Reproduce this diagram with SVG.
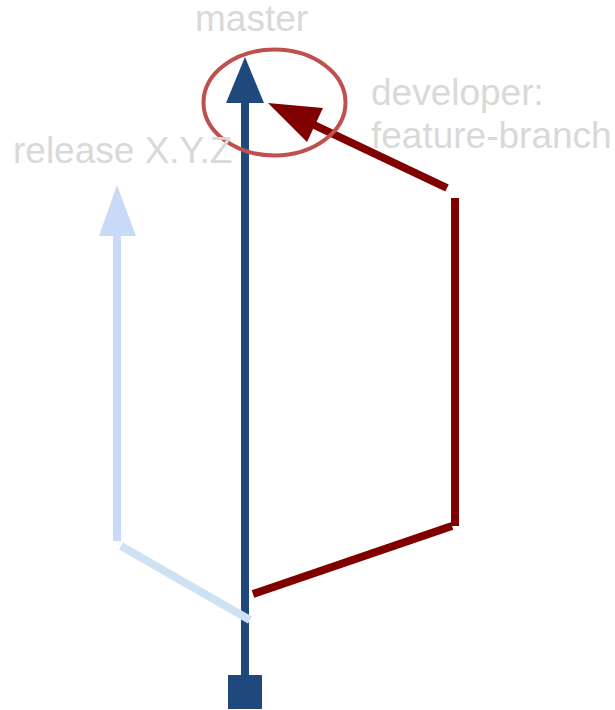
<svg xmlns="http://www.w3.org/2000/svg" width="615" height="710" viewBox="0 0 615 710">
  <style>
    .lbl { font-family: "Liberation Sans", Arial, sans-serif; font-size: 37px; fill: #d9d9d9; }
    .master { stroke: #1f497d; stroke-width: 8; fill: none; }
    .feature { stroke: #800000; stroke-width: 8; fill: none; }
    .release { stroke: #c9daf8; stroke-width: 8; fill: none; }
    .release-fork { stroke: #cfe2f3; stroke-width: 8; fill: none; }
  </style>

  <g id="connectors">
    <!-- master trunk -->
    <line class="master" x1="245" y1="676" x2="245" y2="100"/>
    <polygon points="245,57 226,103 264,103" fill="#1f497d"/>

    <!-- release branch -->
    <line class="release-fork" x1="250" y1="620" x2="121" y2="546"/>
    <line class="release" x1="117" y1="541" x2="117" y2="232"/>
    <polygon points="117,185 99,236 136,236" fill="#c9daf8"/>

    <!-- feature branch -->
    <line class="feature" x1="253" y1="594" x2="452" y2="526"/>
    <line class="feature" x1="455" y1="526" x2="455" y2="198"/>
    <line class="feature" x1="447" y1="188" x2="312" y2="124"/>
    <polygon points="268,103 323,108 307,142" fill="#800000"/>
  </g>

  <g id="node-master">
    <text class="lbl" x="195" y="31">master</text>
    <ellipse cx="274.5" cy="102.5" rx="71" ry="53" fill="none" stroke="#c0504d" stroke-width="4"/>
  </g>

  <g id="node-release">
    <text class="lbl" x="13" y="163">release X.Y.Z</text>
  </g>

  <g id="node-feature">
    <text class="lbl" x="371" y="105">developer:</text>
    <text class="lbl" x="371" y="148">feature-branch</text>
  </g>

  <g id="node-root">
    <rect x="228" y="675" width="34" height="34" fill="#1f497d"/>
  </g>
</svg>
